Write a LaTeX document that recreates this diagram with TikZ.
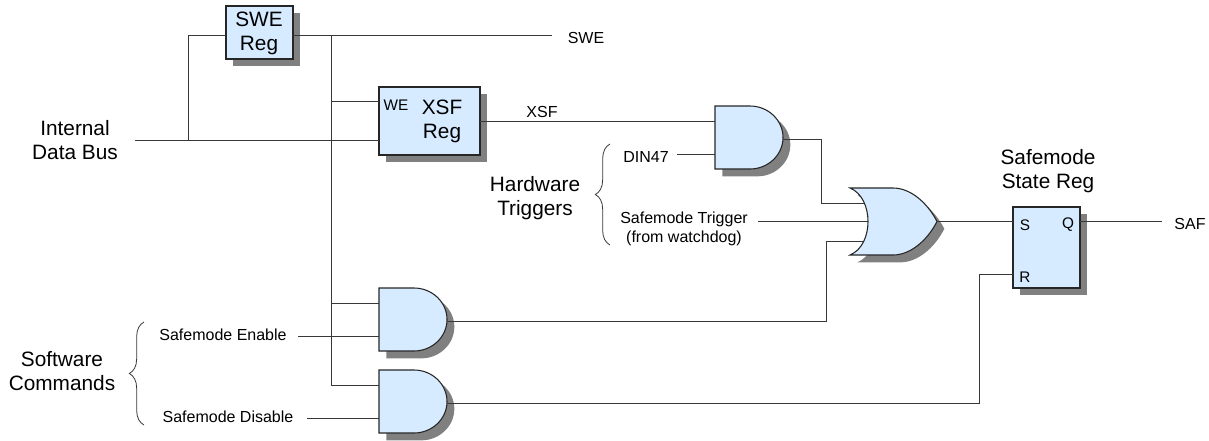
\documentclass[tikz,border=0pt]{standalone}
\usepackage{fontspec}
\setmainfont{Liberation Sans}
\usetikzlibrary{shadows,decorations.pathreplacing}
\definecolor{gatefill}{HTML}{D6EBFF}
\definecolor{shadowgray}{HTML}{808080}
\definecolor{wirecol}{HTML}{383838}
\tikzset{
    wire/.style={draw=wirecol,line width=.75pt},
    gate/.style={draw=black!85,line width=.8pt,fill=gatefill,
        drop shadow={shadow xshift=5.5pt,shadow yshift=-5.5pt,opacity=1,fill=shadowgray}},
    regbox/.style={gate,rectangle,inner sep=0pt,outer sep=0pt},
    biglabel/.style={font=\fontsize{15.6}{18}\selectfont,align=center,inner sep=0pt},
    smalllabel/.style={font=\fontsize{12}{14.3}\selectfont,align=center,inner sep=0pt},
    pinlabel/.style={font=\fontsize{11.5}{14}\selectfont,inner sep=0pt},
    bracket/.style={draw=wirecol,line width=.6pt,decorate,decoration={brace,amplitude=11pt}}
}
% #1 name, (#2,#3) top left corner
\newcommand{\andgate}[3]{
    \begin{scope}[shift={(#2,#3)}]
        \path[gate] (0,0)--(35,0) .. controls (53,0) and (68,14) .. (68,31.5)
            .. controls (68,49) and (53,63) .. (35,63)--(0,63)--cycle;
        \coordinate (#1-a) at (0,15);
        \coordinate (#1-b) at (0,48.5);
        \coordinate (#1-o) at (67.5,33.5);
    \end{scope}
}
\newcommand{\orgate}[3]{
    \begin{scope}[shift={(#2,#3)}]
        \path[gate] (0,0)--(43,0) .. controls (60,0) and (77,14) .. (87,33.5)
            .. controls (77,53) and (60,67) .. (43,67)--(0,67)
            .. controls (12,62) and (18,48) .. (18,33.5)
            .. controls (18,19) and (12,5) .. (0,0)--cycle;
        \coordinate (#1-a) at (14,15);
        \coordinate (#1-b) at (18,33.5);
        \coordinate (#1-c) at (13,53);
        \coordinate (#1-o) at (87,33.5);
    \end{scope}
}
\begin{document}
\begin{tikzpicture}[x=.75pt,y=-.75pt]
    \useasboundingbox (0,0) rectangle (1209,440);
    \coordinate (busin) at (135,140);
    \coordinate (busup) at (188,140);
    \coordinate (tapswe) at (331.5,35);
    \coordinate (sweout) at (552,35);
    \coordinate (enin) at (298,336.5);
    \coordinate (disin) at (307,418.5);
    \coordinate (dinin) at (677,154.5);
    \coordinate (trigin) at (758,221.5);
    \coordinate (safout) at (1162,221.5);
    \coordinate (orturn) at (821,139.5);
    \coordinate (and1turn) at (826,321.5);
    \coordinate (and2turn) at (979,403.5);
    % wires go first so that the gates sit on top
    \node[regbox,minimum width=50.25pt,minimum height=39.75pt] (swereg) at (259.5,32.5) {};
    \node[regbox,minimum width=75.75pt,minimum height=51pt] (xsfreg) at (429.5,121) {};
    \node[regbox,minimum width=50.25pt,minimum height=60.75pt] (safreg) at (1046.5,247.5) {};
    \andgate{andtop}{715}{106}
    \andgate{andone}{379}{288}
    \andgate{andtwo}{379}{370}
    \orgate{orgt}{850}{188}
    \draw[wire] (busin)--(xsfreg.west |- busin);
    \draw[wire] (busup)|-(swereg.west |- tapswe);
    \draw[wire] (swereg.east |- tapswe)--(sweout);
    \draw[wire] (tapswe)|-(andtwo-a);
    \draw[wire] (tapswe |- andone-a)--(andone-a);
    \draw[wire] (tapswe |- 0,101.5)--(xsfreg.west |- 0,101.5);
    \draw[wire] (xsfreg.east |- andtop-a)--(andtop-a);
    \draw[wire] (enin)--(andone-b);
    \draw[wire] (disin)--(andtwo-b);
    \draw[wire] (dinin)--(andtop-b);
    \draw[wire] (andtop-o)--(orturn)|-(orgt-a);
    \draw[wire] (trigin)--(orgt-b);
    \draw[wire] (andone-o)--(and1turn)|-(orgt-c);
    \draw[wire] (orgt-o)--(safreg.west |- orgt-o);
    \draw[wire] (andtwo-o)--(and2turn)|-(safreg.west |- 0,274);
    \draw[wire] (safreg.east |- safout)--(safout);
    \coordinate (hwtop) at (610,144);
    \coordinate (hwbot) at (610,245);
    \coordinate (swtop) at (144,322);
    \coordinate (swbot) at (144,425);
    \draw[bracket] (hwbot)--(hwtop);
    \draw[bracket] (swbot)--(swtop);
    \node[biglabel] (swetext) at (259,33.5) {SWE\\Reg};
    \node[biglabel] (xsftext) at (442,121.5) {XSF\\Reg};
    \node[pinlabel] (wetext) at (396,105) {WE};
    \node[biglabel] (bustext) at (75,140) {Internal\\Data Bus};
    \node[biglabel] (hwtext) at (535,198.5) {Hardware\\Triggers};
    \node[biglabel] (swtext) at (62,371) {Software\\Commands};
    \node[biglabel] (saftext) at (1048,171.5) {Safemode\\State Reg};
    \node[smalllabel] (swelabel) at (586,38) {SWE};
    \node[smalllabel] (xsflabel) at (542,112) {XSF};
    \node[smalllabel] (dinlabel) at (646,157) {DIN47};
    \node[smalllabel] (triglabel) at (684,228.5) {Safemode Trigger\\(from watchdog)};
    \node[smalllabel] (enlabel) at (223,335) {Safemode Enable};
    \node[smalllabel] (dislabel) at (228,417) {Safemode Disable};
    \node[smalllabel] (saflabel) at (1190,224) {SAF};
    \node[pinlabel] (spin) at (1025,225) {S};
    \node[pinlabel] (qpin) at (1068,225) {Q};
    \node[pinlabel] (rpin) at (1025,277) {R};
\end{tikzpicture}
\end{document}
